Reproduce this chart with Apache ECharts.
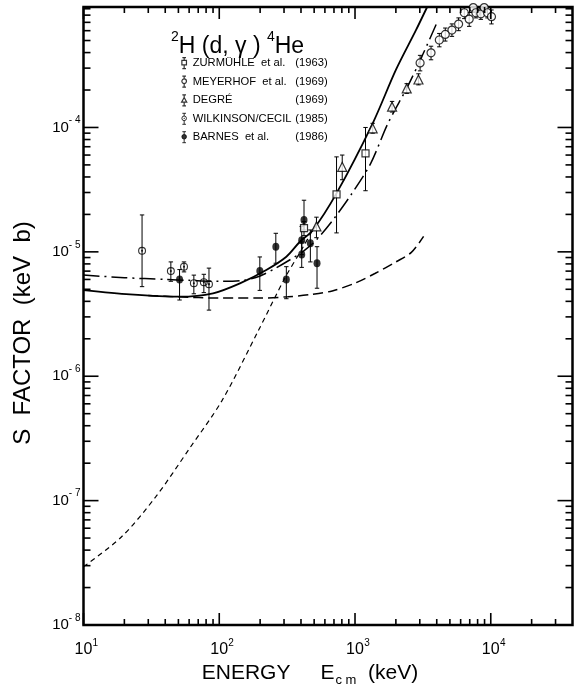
<!DOCTYPE html>
<html>
<head>
<meta charset="utf-8">
<script src="https://cdn.jsdelivr.net/npm/echarts@6/dist/echarts.min.js"></script>
<style>
html, body { margin: 0; padding: 0; background: #fff; }
#chart { width: 580px; height: 687px; }
</style>
</head>
<body>
<div id="chart"></div>
<script>
// energy E (keV) and S factor (keV b)
var X_MIN = 10, X_MAX = 40000;
var Y_MIN = 1e-8, Y_MAX = 9.3e-4;

// curves
var solidE = [10, 22, 51, 90, 142, 222, 312, 391, 490, 730, 1350, 2000, 2800, 3400];
var solidS = [4.93e-6, 4.55e-6, 4.36e-6, 4.64e-6, 5.58e-6, 7.15e-6, 9.14e-6, 1.2e-5, 1.5e-5, 2.95e-5, 1.08e-4, 2.9e-4, 6.0e-4, 9.3e-4];

var dashDotE = [10, 20, 40, 60, 100, 150, 200, 260, 330, 420, 520, 700, 950, 1300, 1750, 2450, 3120, 4000];
var dashDotS = [6.5e-6, 6.2e-6, 6.0e-6, 5.9e-6, 5.8e-6, 5.9e-6, 6.4e-6, 7.4e-6, 8.6e-6, 1.02e-5, 1.25e-5, 1.85e-5, 2.95e-5, 5.1e-5, 1.08e-4, 2.15e-4, 3.75e-4, 6.9e-4];

var dashE = [30, 50, 100, 200, 320, 480, 680, 1000, 1400, 2000, 2600, 3200];
var dashS = [4.45e-6, 4.35e-6, 4.25e-6, 4.25e-6, 4.35e-6, 4.55e-6, 4.85e-6, 5.6e-6, 6.7e-6, 8.3e-6, 9.9e-6, 1.33e-5];

var shortE = [10, 19, 34, 60, 105, 195, 303, 416, 504];
var shortS = [2.94e-8, 5.1e-8, 1.07e-7, 2.6e-7, 6.4e-7, 2.35e-6, 6.1e-6, 1.1e-5, 1.6e-5];

// data sets
var setNames = ['ZURMÜHLE  et al.', 'MEYERHOF  et al.', 'DEGRÉ', 'WILKINSON/CECIL', 'BARNES  et al.'];
var setYears = ['(1963)', '(1969)', '(1969)', '(1985)', '(1986)'];

var zurE  = [421, 731, 1195];
var zurS  = [1.55e-5, 2.9e-5, 6.2e-5];
var zurLo = [1.35e-5, 1.42e-5, 3.1e-5];
var zurHi = [1.75e-5, 5.8e-5, 1.0e-4];

var meyE  = [3016, 3631, 4178, 4624, 5176, 5795, 6383, 6935, 7430, 7770, 8450, 8940, 9460, 10120];
var meyS  = [3.3e-4, 3.98e-4, 5.05e-4, 5.6e-4, 6.07e-4, 6.78e-4, 8.36e-4, 7.43e-4, 9.2e-4, 8.36e-4, 8.2e-4, 9.2e-4, 8.36e-4, 7.77e-4];
var meyLo = [2.85e-4, 3.5e-4, 4.45e-4, 4.95e-4, 5.4e-4, 6.0e-4, 7.5e-4, 6.5e-4, 8.4e-4, 7.6e-4, 7.4e-4, 8.4e-4, 7.6e-4, 6.8e-4];
var meyHi = [3.8e-4, 4.5e-4, 5.7e-4, 6.3e-4, 6.8e-4, 7.6e-4, 9.2e-4, 8.4e-4, 9.3e-4, 9.2e-4, 9.0e-4, 9.3e-4, 9.2e-4, 8.8e-4];

var degE  = [520, 805, 1349, 1875, 2404, 2933];
var degS  = [1.6e-5, 4.83e-5, 9.85e-5, 1.47e-4, 2.06e-4, 2.43e-4];
var degLo = [1.3e-5, 3.8e-5, 9.0e-5, 1.33e-4, 1.88e-4, 2.2e-4];
var degHi = [1.9e-5, 6.0e-5, 1.08e-4, 1.62e-4, 2.25e-4, 2.7e-4];

var wilE  = [27, 44, 55, 65, 77, 84];
var wilS  = [1.02e-5, 7.0e-6, 7.6e-6, 5.6e-6, 5.7e-6, 5.5e-6];
var wilLo = [5.25e-6, 5.8e-6, 6.9e-6, 4.6e-6, 4.7e-6, 3.4e-6];
var wilHi = [1.98e-5, 8.3e-6, 8.3e-6, 6.5e-6, 6.6e-6, 7.4e-6];

var barE  = [51, 199, 261, 312, 405, 405, 421, 469, 525];
var barS  = [6.0e-6, 7.0e-6, 1.1e-5, 6.0e-6, 1.24e-5, 9.5e-6, 1.8e-5, 1.17e-5, 8.1e-6];
var barLo = [4.1e-6, 4.9e-6, 8.1e-6, 4.2e-6, 9.5e-6, 7.5e-6, 1.5e-5, 8.3e-6, 5.1e-6];
var barHi = [7.2e-6, 9.1e-6, 1.41e-5, 7.6e-6, 1.6e-5, 1.2e-5, 2.6e-5, 1.5e-5, 1.1e-5];

// tick values
var xMajor = [10, 100, 1000, 10000];
var xMinor = [20, 30, 40, 50, 60, 70, 80, 90, 200, 300, 400, 500, 600, 700, 800, 900,
              2000, 3000, 4000, 5000, 6000, 7000, 8000, 9000, 20000, 30000];
var yMajor = [1e-8, 1e-7, 1e-6, 1e-5, 1e-4];
var yMinor = [];
[1e-8, 1e-7, 1e-6, 1e-5, 1e-4].forEach(function (d) {
    [2, 3, 4, 5, 6, 7, 8, 9].forEach(function (m) { yMinor.push(m * d); });
});

var FONT = '"Liberation Sans", Arial, sans-serif';

function pairs(xs, ys) {
    return xs.map(function (x, i) { return [x, ys[i]]; });
}
function triples(xs, lo, hi) {
    return xs.map(function (x, i) { return [x, lo[i], hi[i]]; });
}
function seg(x1, y1, x2, y2, w) {
    return { type: 'line', shape: { x1: x1, y1: y1, x2: x2, y2: y2 }, style: { stroke: '#000', lineWidth: w } };
}
function isDecade(v) {
    var l = Math.log10(v);
    return Math.abs(l - Math.round(l)) < 1e-6;
}

function tickSeries(axis, values, len) {
    return {
        type: 'custom', silent: true, z: 6,
        data: values.map(function (v) { return axis === 'x' ? [v, Y_MIN] : [X_MIN, v]; }),
        encode: { x: 0, y: 1 },
        renderItem: function (params, api) {
            var kids;
            if (axis === 'x') {
                var b = api.coord([api.value(0), Y_MIN]), t = api.coord([api.value(0), Y_MAX]);
                kids = [seg(b[0], b[1], b[0], b[1] - len, 1.6), seg(t[0], t[1], t[0], t[1] + len, 1.6)];
            } else {
                var l = api.coord([X_MIN, api.value(1)]), r = api.coord([X_MAX, api.value(1)]);
                kids = [seg(l[0], l[1], l[0] + len, l[1], 1.6), seg(r[0], r[1], r[0] - len, r[1], 1.6)];
            }
            return { type: 'group', children: kids };
        }
    };
}

function errSeries(xs, lo, hi) {
    return {
        type: 'custom', silent: true, z: 3, clip: true,
        data: triples(xs, lo, hi),
        encode: { x: 0, y: [1, 2] },
        renderItem: function (params, api) {
            var a = api.coord([api.value(0), api.value(1)]);
            var b = api.coord([api.value(0), api.value(2)]);
            return {
                type: 'group', children: [
                    seg(a[0], a[1], b[0], b[1], 1),
                    seg(a[0] - 2.2, a[1], a[0] + 2.2, a[1], 1),
                    seg(b[0] - 2.2, b[1], b[0] + 2.2, b[1], 1)
                ]
            };
        }
    };
}

function lineSeries(xs, ys, dash, width) {
    return {
        type: 'line', data: pairs(xs, ys), showSymbol: false, symbol: 'none', smooth: 0.3,
        silent: true, z: 2, clip: true,
        lineStyle: { color: '#000', width: width, type: dash }
    };
}

var openStyle = { color: '#fff', borderColor: '#000', borderWidth: 1.2 };
var dotCircle = 'path://M0,5A5,5 0 1,1 10,5A5,5 0 1,1 0,5Z M1.4,5A3.6,3.6 0 1,0 8.6,5A3.6,3.6 0 1,0 1.4,5Z M3.7,5A1.3,1.3 0 1,1 6.3,5A1.3,1.3 0 1,1 3.7,5Z';

// legend icons: the symbol with a small error bar through it
var barTop = 'M3,0L7,0M5,0L5,3';
var barBot = 'M5,8L5,12M3,12L7,12';
var ring = 'M2.5,5.5A2.5,2.5 0 1,1 7.5,5.5A2.5,2.5 0 1,1 2.5,5.5Z';
var legendIcons = [
    'path://' + barTop + 'M2.5,3L7.5,3L7.5,8L2.5,8Z' + barBot,
    'path://' + barTop + ring + barBot,
    'path://' + barTop + 'M5,3L7.8,8L2.2,8Z' + barBot,
    'path://' + barTop + ring + 'M4.7,5.5A0.3,0.3 0 1,1 5.3,5.5A0.3,0.3 0 1,1 4.7,5.5Z' + barBot,
    'path://' + barTop + ring + barBot
];
var legendStyles = [openStyle, openStyle, openStyle,
    { color: '#fff', borderColor: '#000', borderWidth: 1 },
    { color: '#000', borderColor: '#000', borderWidth: 1 }];

var chart = echarts.init(document.getElementById('chart'), null, { renderer: 'canvas' });

chart.setOption({
    animation: false,
    backgroundColor: '#fff',
    grid: {
        left: 83.5, right: 7.5, top: 7, bottom: 62,
        show: true, borderColor: '#000', borderWidth: 2.5,
        outerBoundsMode: 'none'
    },
    title: {
        left: 166, top: 25,
        text: '{s|2}{t|H (d, γ ) }{s|4}{t|He}',
        textStyle: {
            fontWeight: 'normal',
            rich: {
                t: { fontFamily: FONT, fontSize: 23, fontWeight: 'normal', color: '#000', lineHeight: 28, verticalAlign: 'bottom' },
                s: { fontFamily: FONT, fontSize: 14, fontWeight: 'normal', color: '#000', lineHeight: 14, verticalAlign: 'top' }
            }
        }
    },
    legend: {
        orient: 'vertical', left: 176, top: 52,
        itemWidth: 7, itemHeight: 11, itemGap: 6.4,
        selectedMode: false,
        data: setNames.map(function (n, i) {
            return { name: n, icon: legendIcons[i], itemStyle: legendStyles[i] };
        }),
        formatter: function (name) {
            var i = setNames.indexOf(name);
            return '{n|' + name + '}{y|' + setYears[i] + '}';
        },
        textStyle: {
            rich: {
                n: { fontFamily: FONT, fontSize: 11.2, color: '#000', width: 102, lineHeight: 15 },
                y: { fontFamily: FONT, fontSize: 11.2, color: '#000', width: 33, align: 'right', lineHeight: 15 }
            }
        }
    },
    xAxis: {
        type: 'log', logBase: 10, min: X_MIN, max: X_MAX,
        axisLine: { show: false }, axisTick: { show: false }, splitLine: { show: false },
        axisLabel: {
            margin: 13,
            formatter: function (v) {
                if (!isDecade(v)) return '';
                return '{p|}{b|10}{s|' + Math.round(Math.log10(v)) + '}';
            },
            rich: {
                p: { width: 6 },
                b: { fontFamily: FONT, fontSize: 16, color: '#000', lineHeight: 24, verticalAlign: 'middle' },
                s: { fontFamily: FONT, fontSize: 10, color: '#000', lineHeight: 11, verticalAlign: 'top', width: 6 }
            }
        },
        name: '{t|ENERGY}{g|}{t|E}{c|c m}{t|  (keV)}',
        nameLocation: 'middle', nameGap: 30,
        nameTextStyle: {
            padding: [0, 36, 0, 0],
            rich: {
                t: { fontFamily: FONT, fontSize: 21, color: '#000', lineHeight: 30, verticalAlign: 'middle' },
                g: { width: 30 },
                c: { fontFamily: FONT, fontSize: 13, color: '#000', lineHeight: 14, verticalAlign: 'bottom', padding: [0, 0, 1, 1] }
            }
        }
    },
    yAxis: {
        type: 'log', logBase: 10, min: Y_MIN, max: Y_MAX,
        axisLine: { show: false }, axisTick: { show: false }, splitLine: { show: false },
        axisLabel: {
            margin: 3,
            formatter: function (v) {
                if (!isDecade(v)) return '';
                return '{b|10}{s|- ' + Math.abs(Math.round(Math.log10(v))) + '}';
            },
            rich: {
                b: { fontFamily: FONT, fontSize: 15, color: '#000', lineHeight: 24, verticalAlign: 'middle' },
                s: { fontFamily: FONT, fontSize: 10, color: '#000', lineHeight: 11, verticalAlign: 'top' }
            }
        },
        name: 'S  FACTOR  (keV  b)',
        nameLocation: 'middle', nameGap: 48,
        nameTextStyle: { fontFamily: FONT, fontSize: 24, color: '#000', padding: [0, 34, 0, 0] }
    },
    series: [
        tickSeries('x', xMajor, 12),
        tickSeries('x', xMinor, 6),
        tickSeries('y', yMajor, 15),
        tickSeries('y', yMinor, 7),

        lineSeries(solidE, solidS, 'solid', 1.8),
        lineSeries(dashDotE, dashDotS, [16, 5, 2, 5], 1.5),
        lineSeries(dashE, dashS, [10, 5], 1.5),
        lineSeries(shortE, shortS, [5, 4], 1.2),

        errSeries(zurE, zurLo, zurHi),
        errSeries(meyE, meyLo, meyHi),
        errSeries(degE, degLo, degHi),
        errSeries(wilE, wilLo, wilHi),
        errSeries(barE, barLo, barHi),

        { name: setNames[0], type: 'scatter', z: 4, data: pairs(zurE, zurS), symbol: 'rect', symbolSize: 7, itemStyle: openStyle },
        { name: setNames[1], type: 'scatter', z: 4, data: pairs(meyE, meyS), symbol: 'circle', symbolSize: 8, itemStyle: openStyle },
        { name: setNames[2], type: 'scatter', z: 4, data: pairs(degE, degS), symbol: 'triangle', symbolSize: 9, itemStyle: openStyle },
        { name: setNames[3], type: 'scatter', z: 4, data: pairs(wilE, wilS), symbol: dotCircle, symbolSize: 8, itemStyle: { color: '#000' } },
        { name: setNames[4], type: 'scatter', z: 4, data: pairs(barE, barS), symbol: 'circle', symbolSize: [7, 8], itemStyle: { color: '#000' } }
    ]
});
</script>
</body>
</html>
